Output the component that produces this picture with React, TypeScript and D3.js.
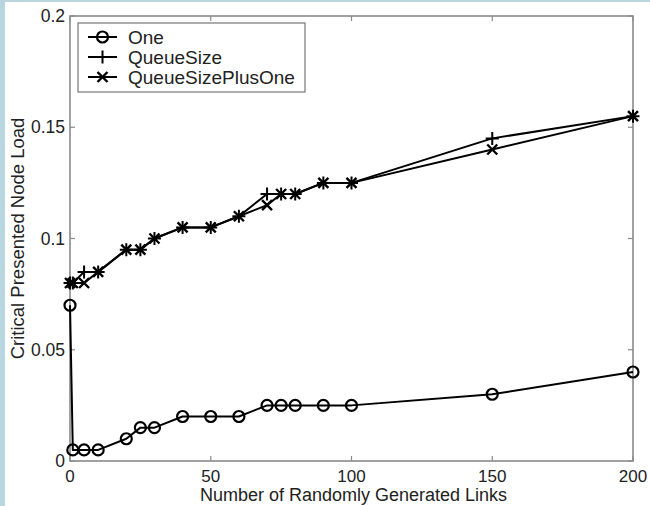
import React from "react";
import * as d3 from "d3";

const xValues = [0, 1, 5, 10, 20, 25, 30, 40, 50, 60, 70, 75, 80, 90, 100, 150, 200];
const seriesOne = [0.07, 0.005, 0.005, 0.005, 0.01, 0.015, 0.015, 0.02, 0.02, 0.02, 0.025, 0.025, 0.025, 0.025, 0.025, 0.03, 0.04];
const seriesQueueSize = [0.08, 0.08, 0.085, 0.085, 0.095, 0.095, 0.1, 0.105, 0.105, 0.11, 0.12, 0.12, 0.12, 0.125, 0.125, 0.145, 0.155];
const seriesQueueSizePlusOne = [0.08, 0.08, 0.08, 0.085, 0.095, 0.095, 0.1, 0.105, 0.105, 0.11, 0.115, 0.12, 0.12, 0.125, 0.125, 0.14, 0.155];
const seriesNames = ["One", "QueueSize", "QueueSizePlusOne"];
const xTicks = [0, 50, 100, 150, 200];
const yTicks = [0, 0.05, 0.1, 0.15, 0.2];
const xLabel = "Number of Randomly Generated Links";
const yLabel = "Critical Presented Node Load";

const W = 650;
const H = 506;
const L = 70, R = 633, T = 16, B = 461;

function Marker({ kind, x, y }: { kind: string; x: number; y: number }) {
  if (kind === "circle") {
    return <circle cx={x} cy={y} r={5.5} fill="none" stroke="#000" strokeWidth={2.2} />;
  }
  if (kind === "plus") {
    const s = 6.5;
    return (
      <path d={`M${x - s},${y}H${x + s}M${x},${y - s}V${y + s}`} stroke="#000" strokeWidth={2} fill="none" />
    );
  }
  const s = 5;
  return (
    <path d={`M${x - s},${y - s}L${x + s},${y + s}M${x - s},${y + s}L${x + s},${y - s}`} stroke="#000" strokeWidth={2.4} fill="none" />
  );
}

export default function App() {
  const x = d3.scaleLinear().domain([0, 200]).range([L, R]);
  const y = d3.scaleLinear().domain([0, 0.2]).range([B, T]);
  const series = [
    { name: seriesNames[0], values: seriesOne, kind: "circle" },
    { name: seriesNames[1], values: seriesQueueSize, kind: "plus" },
    { name: seriesNames[2], values: seriesQueueSizePlusOne, kind: "cross" },
  ];
  const line = d3
    .line<number>()
    .x((_, i) => x(xValues[i]))
    .y((d) => y(d));
  const axisColor = "#8a8a8a";
  const font = "'Liberation Sans', Arial, Helvetica, sans-serif";
  const tickLen = 5;
  return (
    <div style={{ position: "absolute", left: 0, top: 0 }}>
      <svg width={W} height={H} style={{ display: "block" }} fontFamily={font}>
        <rect x={0} y={0} width={W} height={H} fill="#ffffff" />
        <rect x={0} y={0} width={W} height={2} fill="#b9d5dd" />
        <rect x={0} y={0} width={5} height={H} fill="#b9d5dd" />
        {/* axes box */}
        <rect x={L} y={T} width={R - L} height={B - T} fill="none" stroke={axisColor} strokeWidth={1.6} />
        {xTicks.map((t) => (
          <g key={"xt" + t}>
            <line x1={x(t)} x2={x(t)} y1={B} y2={B - tickLen} stroke={axisColor} strokeWidth={1.2} />
            <line x1={x(t)} x2={x(t)} y1={T} y2={T + tickLen} stroke={axisColor} strokeWidth={1.2} />
            <text x={x(t)} y={B + 21} textAnchor="middle" fontSize={17} fill="#222">
              {String(t)}
            </text>
          </g>
        ))}
        {yTicks.map((t) => (
          <g key={"yt" + t}>
            <line x1={L} x2={L + tickLen} y1={y(t)} y2={y(t)} stroke={axisColor} strokeWidth={1.2} />
            <line x1={R} x2={R - tickLen} y1={y(t)} y2={y(t)} stroke={axisColor} strokeWidth={1.2} />
            <text x={L - 5} y={y(t) + 6} textAnchor="end" fontSize={17.5} fill="#222">
              {String(t)}
            </text>
          </g>
        ))}
        <text x={(L + R) / 2 + 2} y={B + 40} textAnchor="middle" fontSize={18} fill="#222">
          {xLabel}
        </text>
        <text
          transform={`translate(24,${(T + B) / 2}) rotate(-90)`}
          textAnchor="middle"
          fontSize={18.5}
          fill="#222"
        >
          {yLabel}
        </text>
        {series.map((s) => (
          <g key={s.name}>
            <path d={line(s.values) || ""} fill="none" stroke="#000" strokeWidth={2} strokeLinejoin="round" />
            {s.values.map((v, i) => (
              <Marker key={i} kind={s.kind} x={x(xValues[i])} y={y(v)} />
            ))}
          </g>
        ))}
        {/* legend */}
        <rect x={78} y={23} width={227} height={69} fill="#fff" stroke="#777" strokeWidth={1.2} />
        {series.map((s, i) => {
          const cy = 37 + i * 20;
          return (
            <g key={"lg" + s.name}>
              <line x1={88} x2={117} y1={cy} y2={cy} stroke="#000" strokeWidth={2} />
              <Marker kind={s.kind} x={102.5} y={cy} />
              <text x={128} y={cy + 6.5} fontSize={19} fill="#222">
                {s.name}
              </text>
            </g>
          );
        })}
      </svg>
    </div>
  );
}
